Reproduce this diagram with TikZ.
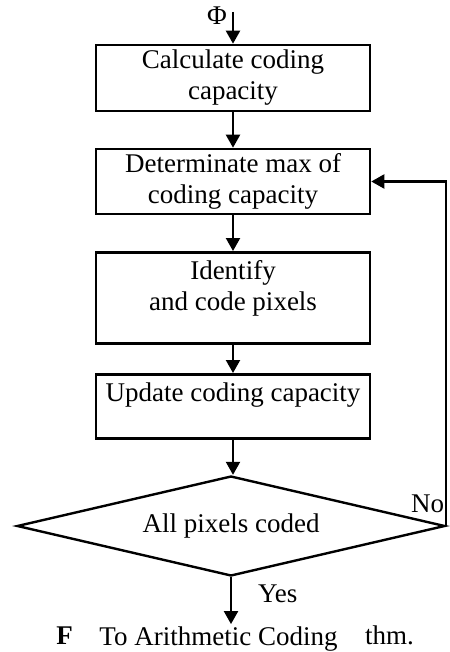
\documentclass[tikz,border=0pt]{standalone}
\usepackage{fontspec}
\setmainfont{Liberation Serif}
\usepackage{tikz}
\usetikzlibrary{arrows.meta, shapes.geometric, positioning, calc}

\begin{document}
\begin{tikzpicture}[x=1pt, y=-1pt,
        stepbox/.style={draw, line width=2.6pt, minimum width=274pt, align=center, inner xsep=0pt, inner ysep=4pt, font=\fontsize{27}{31}\selectfont},
        decision/.style={draw, shape=diamond, aspect=4.3, line width=2.4pt, minimum width=428pt, minimum height=100pt, inner sep=0pt, font=\fontsize{27}{31}\selectfont},
        flow/.style={line width=2.2pt, -{Triangle[length=13pt, width=14pt]}},
        txt/.style={inner sep=0pt, font=\fontsize{27}{31}\selectfont}]
        % Fix the page size
        \useasboundingbox (0,0) rectangle (449,652);

        % Boxes of the flow
        \node[stepbox, minimum height=66pt] (calc) at (233,78) {Calculate coding\\capacity};
        \node[stepbox, minimum height=65pt] (maxcap) at (233,181.5) {Determinate max of\\coding capacity};
        \node[stepbox, anchor=north, text height=54pt, text depth=29pt] (ident) at (233,251) {Identify\\and code pixels};
        \node[stepbox, anchor=north, text height=23pt, text depth=33pt] (update) at (233,373) {Update coding capacity};
        \node[decision] (done) at (231,526) {All pixels coded};

        % Caption behind the exit text
        \node[txt, anchor=base east] (capl) at (73,644) {\textbf{F}};
        \node[txt, anchor=base west] (capr) at (365,644) {thm.};
        \node[txt, fill=white, anchor=base, minimum width=289pt, inner ysep=2pt] (out) at (218.5,645) {To Arithmetic Coding};

        % Input
        \coordinate (in) at (233,12);
        \node[txt, anchor=base east] (phi) at (227,25) {Φ};

        % Arrows
        \draw[flow] (in) -- (calc.north);
        \draw[flow] (calc) -- (maxcap);
        \draw[flow] (maxcap) -- (ident);
        \draw[flow] (ident) -- (update);
        \draw[flow] (update.south) -- (update.south |- done.north);
        \draw[flow] (done.south) -- (done.south |- out.north);
        \draw[flow] (done.east) -- (done.east |- maxcap.east) -- (maxcap.east);

        % Labels of the branches
        \node[txt, anchor=base east] (no) at ([xshift=-2pt, yshift=14pt]done.east) {No};
        \node[txt, anchor=base west] (yes) at ([xshift=27pt, yshift=-25pt]done.south) {Yes};
    \end{tikzpicture}
\end{document}
